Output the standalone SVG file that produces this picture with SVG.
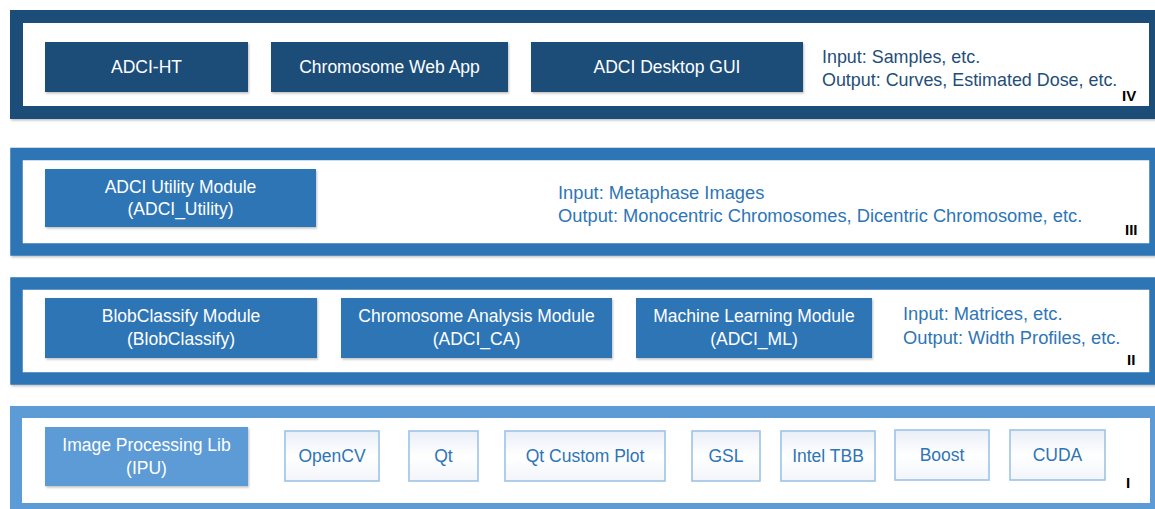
<svg xmlns="http://www.w3.org/2000/svg" width="1155" height="509" viewBox="0 0 1155 509">
<defs>
<filter id="sh" x="-5%" y="-10%" width="110%" height="130%">
<feDropShadow dx="1" dy="1.5" stdDeviation="1.2" flood-color="#000" flood-opacity="0.25"/>
</filter>
<linearGradient id="lg" x1="0" y1="0" x2="0" y2="1">
<stop offset="0" stop-color="#e9eef7"/>
<stop offset="0.5" stop-color="#ffffff"/>
<stop offset="1" stop-color="#f2f5fa"/>
</linearGradient>
</defs>
<style>
text{font-family:"Liberation Sans",Arial,sans-serif;}
.frame{fill:#fff;}
.f4{stroke:#1f4e79;stroke-width:13;}
.f3{stroke:#2e75b6;stroke-width:12.5;}
.f1{stroke:#5b9bd5;stroke-width:12;}
.b4{fill:#1f4e79;}
.b3{fill:#2e75b6;}
.b1{fill:#5b9bd5;}
.lib{fill:url(#lg);stroke:#9dc3e6;stroke-width:1.6;}
.wt{fill:#fff;font-size:17.5px;text-anchor:middle;}
.lt{fill:#2e75b6;font-size:17.5px;text-anchor:middle;}
.s4{fill:#1f4e79;font-size:17.9px;}
.s3{fill:#2e75b6;font-size:18.3px;}
.num{fill:#000;font-size:15px;font-weight:bold;}
</style>
<g id="layer-IV">
<rect class="frame f4" x="16.5" y="16.5" width="1139" height="96" filter="url(#sh)"/>
<text class="num" x="1122" y="101">IV</text>
<text class="s4" x="822" y="63">Input: Samples, etc.</text>
<text class="s4" x="822" y="86">Output: Curves, Estimated Dose, etc.</text>
</g>
<g id="adci-ht"><rect class="b4" x="45" y="42" width="203" height="50" filter="url(#sh)"/><text class="wt" x="146.5" y="73">ADCI-HT</text></g>
<g id="web-app"><rect class="b4" x="271" y="42" width="237" height="50" filter="url(#sh)"/><text class="wt" x="389.5" y="73">Chromosome Web App</text></g>
<g id="desktop-gui"><rect class="b4" x="531" y="42" width="272" height="50" filter="url(#sh)"/><text class="wt" x="667" y="73">ADCI Desktop GUI</text></g>

<g id="layer-III">
<rect class="frame f3" x="16.5" y="154" width="1139" height="95.5" filter="url(#sh)"/>
<text class="num" x="1125" y="235">III</text>
<text class="s3" x="558" y="199">Input: Metaphase Images</text>
<text class="s3" x="558" y="222">Output: Monocentric Chromosomes, Dicentric Chromosome, etc.</text>
</g>
<g id="adci-utility"><rect class="b3" x="45" y="169" width="271" height="58" filter="url(#sh)"/><text class="wt" x="180.5" y="193">ADCI Utility Module</text><text class="wt" x="180.5" y="215">(ADCI_Utility)</text></g>

<g id="layer-II">
<rect class="frame f3" x="16.5" y="283.5" width="1139" height="95" filter="url(#sh)"/>
<text class="num" x="1127" y="365">II</text>
<text class="s3" x="903" y="320">Input: Matrices, etc.</text>
<text class="s3" x="903" y="344">Output: Width Profiles, etc.</text>
</g>
<g id="blobclassify"><rect class="b3" x="45" y="298" width="272" height="60" filter="url(#sh)"/><text class="wt" x="181" y="322">BlobClassify Module</text><text class="wt" x="181" y="345">(BlobClassify)</text></g>
<g id="chromosome-analysis"><rect class="b3" x="341" y="298" width="271" height="60" filter="url(#sh)"/><text class="wt" x="476.5" y="322">Chromosome Analysis Module</text><text class="wt" x="476.5" y="345">(ADCI_CA)</text></g>
<g id="machine-learning"><rect class="b3" x="636" y="298" width="236" height="60" filter="url(#sh)"/><text class="wt" x="754" y="322">Machine Learning Module</text><text class="wt" x="754" y="345">(ADCI_ML)</text></g>

<g id="layer-I">
<rect class="frame f1" x="16" y="412" width="1140" height="97" filter="url(#sh)"/>
<text class="num" x="1126" y="488">I</text>
</g>
<g id="ipu"><rect class="b1" x="45" y="427" width="203" height="59" filter="url(#sh)"/><text class="wt" x="146.5" y="451">Image Processing Lib</text><text class="wt" x="146.5" y="474">(IPU)</text></g>
<g id="opencv"><rect class="lib" x="285" y="431" width="94" height="50"/><text class="lt" x="332" y="462">OpenCV</text></g>
<g id="qt"><rect class="lib" x="409" y="431" width="69" height="50"/><text class="lt" x="443.5" y="462">Qt</text></g>
<g id="qt-custom-plot"><rect class="lib" x="505" y="431" width="160" height="50"/><text class="lt" x="585" y="462">Qt Custom Plot</text></g>
<g id="gsl"><rect class="lib" x="692" y="431" width="68" height="50"/><text class="lt" x="726" y="462">GSL</text></g>
<g id="intel-tbb"><rect class="lib" x="781" y="431" width="94" height="50"/><text class="lt" x="828" y="462">Intel TBB</text></g>
<g id="boost"><rect class="lib" x="895" y="430" width="94" height="50"/><text class="lt" x="942" y="461">Boost</text></g>
<g id="cuda"><rect class="lib" x="1010" y="430" width="95" height="50"/><text class="lt" x="1057.5" y="461">CUDA</text></g>
<g id="connectors"/>
</svg>
